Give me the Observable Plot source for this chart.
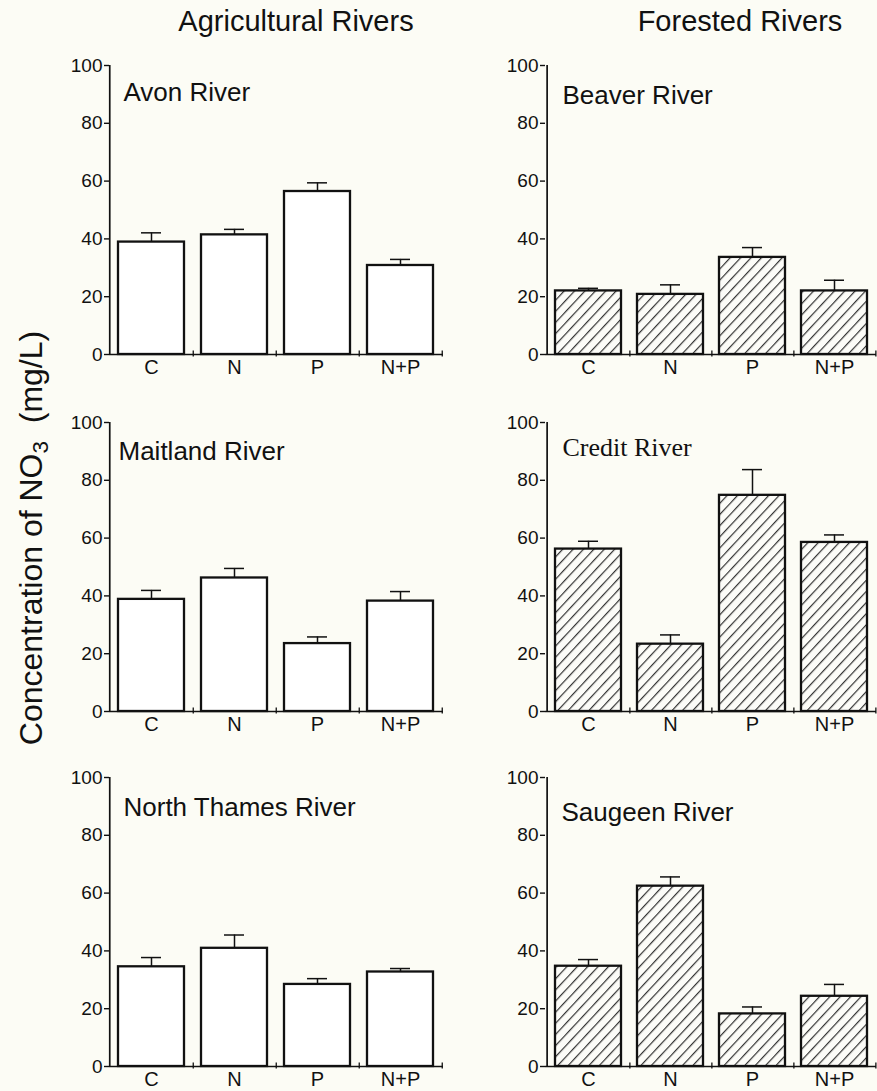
<!DOCTYPE html>
<html><head><meta charset="utf-8">
<script src="https://cdn.jsdelivr.net/npm/d3@7"></script>
<script src="https://cdn.jsdelivr.net/npm/@observablehq/plot@0.6"></script>
<style>
html,body{margin:0;padding:0;background:#fcfcf5;overflow:hidden}
#fig{position:relative;width:877px;height:1091px;font-family:"Liberation Sans",Arial,sans-serif;color:#111}
.col{position:absolute;top:7px;width:400px;margin-left:-200px;text-align:center;font-size:29px;line-height:29px;white-space:nowrap}
#ylab{position:absolute;left:31px;top:538px;transform:translate(-50%,-50%) rotate(-90deg);font-size:32px;white-space:nowrap;line-height:1.15}
#ylab sub{font-size:0.7em;vertical-align:-0.3em;line-height:0}
.panel{position:absolute}
</style></head><body>
<div id="fig"></div>
<script>
// ---------- data ----------
const treatments = ["C", "N", "P", "N+P"];
const columnTitles = ["Agricultural Rivers", "Forested Rivers"];
const yLabel = "Concentration of NO";
const yLabelSub = "3";
const yLabelUnit = "(mg/L)";
const riverNames = ["Avon River", "Beaver River", "Maitland River", "Credit River", "North Thames River", "Saugeen River"];
const riverLandUse = ["Agricultural", "Forested", "Agricultural", "Forested", "Agricultural", "Forested"];
const yTicks = [0, 20, 40, 60, 80, 100];

const avonMean = [38.9, 41.4, 56.4, 30.8];
const avonSE   = [3.2, 1.9, 3.0, 2.1];
const beaverMean = [22.0, 20.8, 33.6, 22.0];
const beaverSE   = [0.9, 3.3, 3.4, 3.7];
const maitlandMean = [38.8, 46.2, 23.5, 38.2];
const maitlandSE   = [3.1, 3.3, 2.3, 3.3];
const creditMean = [56.2, 23.3, 74.8, 58.5];
const creditSE   = [2.7, 3.2, 8.9, 2.6];
const thamesMean = [34.5, 40.9, 28.4, 32.7];
const thamesSE   = [3.2, 4.6, 2.0, 1.2];
const saugeenMean = [34.7, 62.4, 18.2, 24.3];
const saugeenSE   = [2.3, 3.2, 2.4, 4.1];

const riverMeans = [avonMean, beaverMean, maitlandMean, creditMean, thamesMean, saugeenMean];
const riverSEs = [avonSE, beaverSE, maitlandSE, creditSE, thamesSE, saugeenSE];

// ---------- layout (styles/positions, not data) ----------
const colGeom = [
  {left: 60, width: 388, marginRight: 5},
  {left: 496, width: 381, marginRight: 1}
];
const rowTop = [40, 397, 752];
const titleOffsets = [
  {dx: 14, dy: 35, serif: false},
  {dx: 17, dy: 38, serif: false},
  {dx: 9, dy: 37, serif: false},
  {dx: 17, dy: 33, serif: true},
  {dx: 14, dy: 38, serif: false},
  {dx: 16, dy: 43, serif: false}
];
const INK = "#111";
const FONT = "Liberation Sans, Arial, sans-serif";

const fig = document.getElementById("fig");

// column titles
[296, 740].forEach((cx, i) => {
  const d = document.createElement("div");
  d.className = "col";
  d.style.left = cx + "px";
  d.textContent = columnTitles[i];
  fig.appendChild(d);
});
// y label
const yl = document.createElement("div");
yl.id = "ylab";
yl.innerHTML = `${yLabel}<sub>${yLabelSub}</sub>&nbsp; ${yLabelUnit}`;
fig.appendChild(yl);

riverNames.forEach((name, i) => {
  const col = i % 2, row = Math.floor(i / 2);
  const g = colGeom[col];
  const marginLeft = 49, marginTop = 25, marginBottom = 25, innerH = 289;
  const step = (g.width - marginLeft - g.marginRight) / treatments.length;
  const hatched = riverLandUse[i] === "Forested";
  const pid = "hatch" + i;
  const data = treatments.map((t, j) => ({t, v: riverMeans[i][j], e: riverSEs[i][j]}));
  const to = titleOffsets[i];

  const svg = Plot.plot({
    width: g.width,
    height: marginTop + innerH + marginBottom,
    marginLeft, marginRight: g.marginRight, marginTop, marginBottom,
    style: {background: "transparent", fontFamily: FONT, color: INK, overflow: "visible"},
    x: {domain: treatments, paddingInner: 0.2, paddingOuter: 0.1},
    y: {domain: [0, 100]},
    marks: [
      Plot.barY(data, {x: "t", y: "v", fill: hatched ? `url(#${pid})` : "#ffffff", stroke: INK, strokeWidth: 2.3}),
      Plot.ruleX(data, {x: "t", y1: "v", y2: d => d.v + d.e, stroke: INK, strokeWidth: 1.5}),
      Plot.tickY(data, {x: "t", y: d => d.v + d.e, insetLeft: 23, insetRight: 23, stroke: INK, strokeWidth: 1.5}),
      Plot.ruleY([0], {stroke: INK, strokeWidth: 1.7}),
      Plot.ruleX([treatments[0]], {x: d => d, y1: 0, y2: 100, dx: -step / 2, stroke: INK, strokeWidth: 1.7}),
      Plot.ruleX(treatments, {x: d => d, y1: -0.9, y2: 1.2, dx: step / 2, stroke: INK, strokeWidth: 1.3}),
      Plot.axisY({ticks: yTicks, tickSize: 5, tickPadding: 2, fontSize: 19, label: null, strokeWidth: 1.4}),
      Plot.axisX({tickSize: 0, tickPadding: 5, fontSize: 20, label: null}),
      Plot.text([name], {
        frameAnchor: "top-left", textAnchor: "start", lineAnchor: "bottom",
        dx: to.dx, dy: to.dy, fontSize: 26,
        fontFamily: to.serif ? "Liberation Serif, Times New Roman, serif" : FONT,
        fill: INK
      })
    ]
  });

  if (hatched) {
    const ns = "http://www.w3.org/2000/svg";
    const s = 7.6;
    const defs = document.createElementNS(ns, "defs");
    const pat = document.createElementNS(ns, "pattern");
    pat.setAttribute("id", pid);
    pat.setAttribute("patternUnits", "userSpaceOnUse");
    pat.setAttribute("width", s);
    pat.setAttribute("height", s);
    pat.setAttribute("patternTransform", "rotate(43)");
    const bg = document.createElementNS(ns, "rect");
    bg.setAttribute("width", s); bg.setAttribute("height", s);
    bg.setAttribute("fill", "#fcfcf8");
    const ln = document.createElementNS(ns, "line");
    ln.setAttribute("x1", "0.6"); ln.setAttribute("y1", "0");
    ln.setAttribute("x2", "0.6"); ln.setAttribute("y2", s);
    ln.setAttribute("stroke", "#333"); ln.setAttribute("stroke-width", "1.2");
    pat.appendChild(bg); pat.appendChild(ln);
    defs.appendChild(pat);
    svg.insertBefore(defs, svg.firstChild);
  }

  const wrap = document.createElement("div");
  wrap.className = "panel";
  wrap.style.left = g.left + "px";
  wrap.style.top = rowTop[row] + "px";
  wrap.appendChild(svg);
  fig.appendChild(wrap);
});
</script>
</body></html>
